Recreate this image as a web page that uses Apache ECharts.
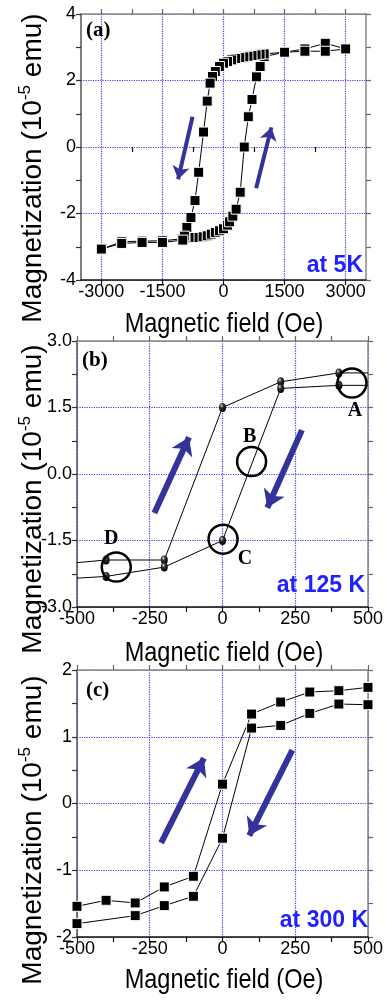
<!DOCTYPE html>
<html>
<head>
<meta charset="utf-8">
<script src="https://cdn.jsdelivr.net/npm/echarts@6/dist/echarts.min.js"></script>
<style>
  html, body { margin: 0; padding: 0; background: #fff; }
  #chart { width: 386px; height: 1000px; }
</style>
</head>
<body>
<div id="chart"></div>
<script>
///////////////////////////////////////////////////
// Data
///////////////////////////////////////////////////

// (a) 5 K, field in Oe, magnetization in 1e-5 emu
var fieldA_up = [-3000, -2500, -2000, -1500, -1000, -900, -800, -700, -600, -500, -400, -300, -200, -100, 0, 100, 150, 230, 310, 410, 510, 610, 700, 810, 900, 1000, 1500, 2000, 2500, 3000];
var magA_up = [-3.07, -2.85, -2.83, -2.82, -2.76, -2.73, -2.73, -2.72, -2.72, -2.70, -2.67, -2.62, -2.57, -2.52, -2.46, -2.35, -2.25, -2.08, -1.87, -1.36, 0.0, 0.91, 1.43, 2.11, 2.42, 2.72, 2.85, 2.95, 3.12, 2.95];
var fieldA_down = [3000, 2500, 2000, 1500, 1000, 900, 800, 700, 600, 500, 400, 300, 200, 100, 0, -100, -200, -270, -330, -400, -490, -610, -700, -800, -900, -960, -1000, -1500, -2000, -2500, -3000];
var magA_down = [2.95, 2.88, 2.88, 2.85, 2.80, 2.79, 2.77, 2.75, 2.73, 2.71, 2.69, 2.66, 2.62, 2.57, 2.52, 2.42, 2.27, 2.12, 1.92, 1.38, 0.45, -0.76, -1.61, -2.12, -2.42, -2.68, -2.80, -2.87, -2.87, -2.90, -3.07];
var ticksA_major = [-3000, -1500, 0, 1500, 3000];
var ticksA_minor = [-2250, -750, 750, 2250];

// (b) 125 K
var fieldB_up = [-500, -400, -200, 0, 200, 400, 500];
var magB_up = [-2.0, -1.94, -1.94, 1.5, 2.08, 2.28, 2.28];
var fieldB_down = [500, 400, 200, 0, -200, -400, -500];
var magB_down = [2.0, 2.0, 1.93, -1.5, -2.1, -2.31, -2.35];
var markB_field = [445, 100, 2, -365];
var markB_mag = [2.05, 0.28, -1.47, -2.10];
var markB_text = ['A', 'B', 'C', 'D'];

// (c) 300 K
var fieldC_1 = [-500, -400, -300, -200, -100, 0, 100, 200, 300, 400, 500];
var magC_1 = [-1.54, -1.45, -1.49, -1.25, -1.09, 0.29, 1.34, 1.52, 1.67, 1.69, 1.74];
var fieldC_2 = [-500, -300, -200, -100, 0, 100, 200, 300, 400, 500];
var magC_2 = [-1.80, -1.68, -1.53, -1.39, -0.52, 1.13, 1.17, 1.35, 1.49, 1.48];

// sweep-direction arrows, [start, end] in data units
var arrowsA = [[[-760, 0.91], [-1115, -0.97]], [[801, -1.24], [1176, 0.59]]];
var arrowsB = [[[-234, -0.88], [-115, 0.83]], [[273, 0.99], [154, -0.76]]];
var arrowsC = [[[-211, -0.59], [-64, 0.68]], [[240, 0.80], [92, -0.48]]];

var tempLabels = ['at 5K', 'at 125 K', 'at 300 K'];
var panelLabels = ['(a)', '(b)', '(c)'];

///////////////////////////////////////////////////
// Styling helpers
///////////////////////////////////////////////////
var SANS = "'Liberation Sans',Arial,sans-serif";
var SERIF = "'Liberation Serif','Times New Roman',serif";
var ARROW_BLUE = '#333399';

var dotted = { show: true, lineStyle: { color: '#3c3cff', type: 'dotted', width: 1.2 } };
var tickLabel = { margin: 5, fontFamily: SANS, fontSize: 18, color: '#000' };

function pairs(xs, ys) {
  return xs.map(function (x, i) { return [x, ys[i]]; });
}

// hide the symbol of points sitting on the plot edge (b)
function edgeless(xs, ys, lim) {
  return xs.map(function (x, i) {
    var item = { value: [x, ys[i]] };
    if (Math.abs(x) >= lim) item.symbol = 'none';
    return item;
  });
}

function xBottom(grid, min, max, interval) {
  return {
    type: 'value', gridIndex: grid, position: 'bottom', min: min, max: max, interval: interval,
    axisLine: { onZero: false, lineStyle: { color: '#111', width: 1.5 } },
    axisTick: { length: 5, lineStyle: { color: '#111', width: 1.2 } },
    minorTick: { show: true, splitNumber: 2, length: 5, lineStyle: { color: '#111', width: 1.2 } },
    axisLabel: {
      margin: 3, fontFamily: SANS, fontSize: 18, color: '#000',
      formatter: function (v) { return String(v); }
    },
    splitLine: dotted
  };
}

function xTop(grid, min, max, interval) {
  return {
    type: 'value', gridIndex: grid, position: 'top', min: min, max: max, interval: interval,
    axisLine: { onZero: false, lineStyle: { color: '#888', width: 1.5 } },
    axisTick: { length: 5, lineStyle: { color: '#666', width: 1.2 } },
    minorTick: { show: true, splitNumber: 2, length: 5, lineStyle: { color: '#666', width: 1.2 } },
    axisLabel: { show: false },
    splitLine: { show: false }
  };
}

function yLeft(grid, min, max, interval, digits) {
  return {
    type: 'value', gridIndex: grid, position: 'left', min: min, max: max, interval: interval,
    axisLine: { onZero: false, lineStyle: { color: '#555', width: 1.5 } },
    axisTick: { length: 5, lineStyle: { color: '#333', width: 1.2 } },
    minorTick: { show: true, splitNumber: 2, length: 5, lineStyle: { color: '#333', width: 1.2 } },
    axisLabel: Object.assign({}, tickLabel, {
      formatter: function (v) { return v.toFixed(digits); }
    }),
    splitLine: dotted
  };
}

function yRight(grid, min, max, interval) {
  return {
    type: 'value', gridIndex: grid, position: 'right', min: min, max: max, interval: interval,
    axisLine: { onZero: false, lineStyle: { color: '#888', width: 1.5 } },
    axisTick: { length: 5, lineStyle: { color: '#666', width: 1.2 } },
    minorTick: { show: true, splitNumber: 2, length: 5, lineStyle: { color: '#666', width: 1.2 } },
    axisLabel: { show: false },
    splitLine: { show: false }
  };
}

// panel (a): major ticks every 1500 inside a -3500..3500 range
var xA = xBottom(0, -3500, 3500);
xA.minorTick = { show: false };
xA.axisLabel.customValues = ticksA_major;
xA.axisTick.customValues = ticksA_major;
var xAminor = {
  type: 'value', gridIndex: 0, position: 'bottom', min: -3500, max: 3500,
  axisLine: { show: false }, axisLabel: { show: false }, splitLine: { show: false },
  axisTick: { length: 5, customValues: ticksA_minor, lineStyle: { color: '#111', width: 1.2 } }
};
var xAtop = xTop(0, -3500, 3500);
xAtop.minorTick = { show: false };
xAtop.axisTick.customValues = ticksA_major.concat(ticksA_minor);

var squareStyle = {
  type: 'line', symbol: 'rect', symbolSize: 10,
  itemStyle: { color: '#000', borderColor: '#fff', borderWidth: 1 },
  lineStyle: { color: '#000', width: 1 }
};
var beadColor = {
  type: 'radial', x: 0.38, y: 0.3, r: 0.7,
  colorStops: [{ offset: 0, color: '#e0e0e0' }, { offset: 0.35, color: '#333' }, { offset: 1, color: '#000' }]
};
var beadStyle = {
  type: 'line', symbol: 'circle', symbolSize: [7, 9],
  itemStyle: { color: beadColor },
  lineStyle: { color: '#000', width: 1 }
};

function lineSeries(base, xi, yi, data) {
  return Object.assign({}, base, { xAxisIndex: xi, yAxisIndex: yi, data: data, z: 3 });
}

function arrowSeries(xi, yi, arrows, width, head) {
  return {
    type: 'lines', coordinateSystem: 'cartesian2d', xAxisIndex: xi, yAxisIndex: yi,
    symbol: ['none', 'arrow'], symbolSize: head, z: 4,
    lineStyle: { color: ARROW_BLUE, width: width, opacity: 1, curveness: 0 },
    data: arrows.map(function (a) { return { coords: a }; })
  };
}

var markOffsets = [[3, 28], [-2, -25], [22, 20], [-5, -28]];

var tempTitle = { fontFamily: SANS, fontWeight: 'bold', fontSize: 23, color: '#1f1fff' };
var panelTitle = { fontFamily: SERIF, fontWeight: 'bold', fontSize: 21, color: '#000' };

function yName(x, y) {
  return {
    type: 'text', x: x, y: y, rotation: Math.PI / 2, z: 10,
    style: {
      text: '{m|Magnetization (10}{s|-5}{m| emu)}',
      align: 'center', verticalAlign: 'middle',
      rich: {
        m: { fontFamily: SANS, fontSize: 28, fill: '#000', lineHeight: 32 },
        s: { fontFamily: SANS, fontSize: 17, fill: '#000', lineHeight: 17, verticalAlign: 'top' }
      }
    }
  };
}

// condensed axis title, squeezed horizontally like the original lettering
function xName(x, y) {
  return {
    type: 'text', x: x, y: y, scaleX: 0.84, z: 10,
    style: {
      text: 'Magnetic field (Oe)', align: 'center', verticalAlign: 'middle',
      fontFamily: SANS, fontSize: 28, fill: '#000'
    }
  };
}

///////////////////////////////////////////////////
// Chart
///////////////////////////////////////////////////
var chart = echarts.init(document.getElementById('chart'), null, { renderer: 'canvas' });

chart.setOption({
  animation: false,
  backgroundColor: '#fff',
  title: [
    { text: panelLabels[0], left: 86, top: 20, padding: 0, textStyle: panelTitle },
    { text: panelLabels[1], left: 82, top: 350, padding: 0, textStyle: panelTitle },
    { text: panelLabels[2], left: 86, top: 680, padding: 0, textStyle: panelTitle },
    { text: tempLabels[0], right: 23, top: 254, padding: 0, textStyle: tempTitle },
    { text: tempLabels[1], right: 21, top: 574, padding: 0, textStyle: tempTitle },
    { text: tempLabels[2], right: 18, top: 909, padding: 0, textStyle: tempTitle }
  ],
  grid: [
    { left: 81, right: 20, top: 14, height: 266 },
    { left: 77, right: 17, top: 341, height: 266 },
    { left: 77, right: 17, top: 670, height: 267 }
  ],
  xAxis: [
    xA, xAminor, xAtop,
    xBottom(1, -500, 500, 250), xTop(1, -500, 500, 250),
    xBottom(2, -500, 500, 250), xTop(2, -500, 500, 250)
  ],
  yAxis: [
    yLeft(0, -4, 4, 2, 0), yRight(0, -4, 4, 2),
    yLeft(1, -3, 3, 1.5, 1), yRight(1, -3, 3, 1.5),
    yLeft(2, -2, 2, 1, 0), yRight(2, -2, 2, 1)
  ],
  graphic: [
    yName(33, 168), yName(33, 499), yName(33, 830),
    xName(224, 324), xName(224, 653), xName(224, 980)
  ],
  series: [
    lineSeries(squareStyle, 0, 0, pairs(fieldA_up, magA_up)),
    lineSeries(squareStyle, 0, 0, pairs(fieldA_down, magA_down)),
    arrowSeries(0, 0, arrowsA, 4, 13),

    lineSeries(beadStyle, 3, 2, edgeless(fieldB_up, magB_up, 500)),
    lineSeries(beadStyle, 3, 2, edgeless(fieldB_down, magB_down, 500)),
    {
      type: 'scatter', xAxisIndex: 3, yAxisIndex: 2, z: 5,
      symbol: 'circle', symbolSize: 29,
      itemStyle: { color: 'rgba(0,0,0,0)', borderColor: '#000', borderWidth: 2.5, opacity: 1 },
      label: {
        show: true, position: 'inside', opacity: 1,
        fontFamily: SERIF, fontWeight: 'bold', fontSize: 20, color: '#000'
      },
      data: markB_field.map(function (x, i) {
        return {
          value: [x, markB_mag[i]],
          label: { formatter: markB_text[i], offset: markOffsets[i] }
        };
      })
    },
    arrowSeries(3, 2, arrowsB, 6, 17),

    lineSeries(squareStyle, 5, 4, pairs(fieldC_1, magC_1)),
    lineSeries(squareStyle, 5, 4, pairs(fieldC_2, magC_2)),
    arrowSeries(5, 4, arrowsC, 6, 17)
  ]
});
</script>
</body>
</html>
